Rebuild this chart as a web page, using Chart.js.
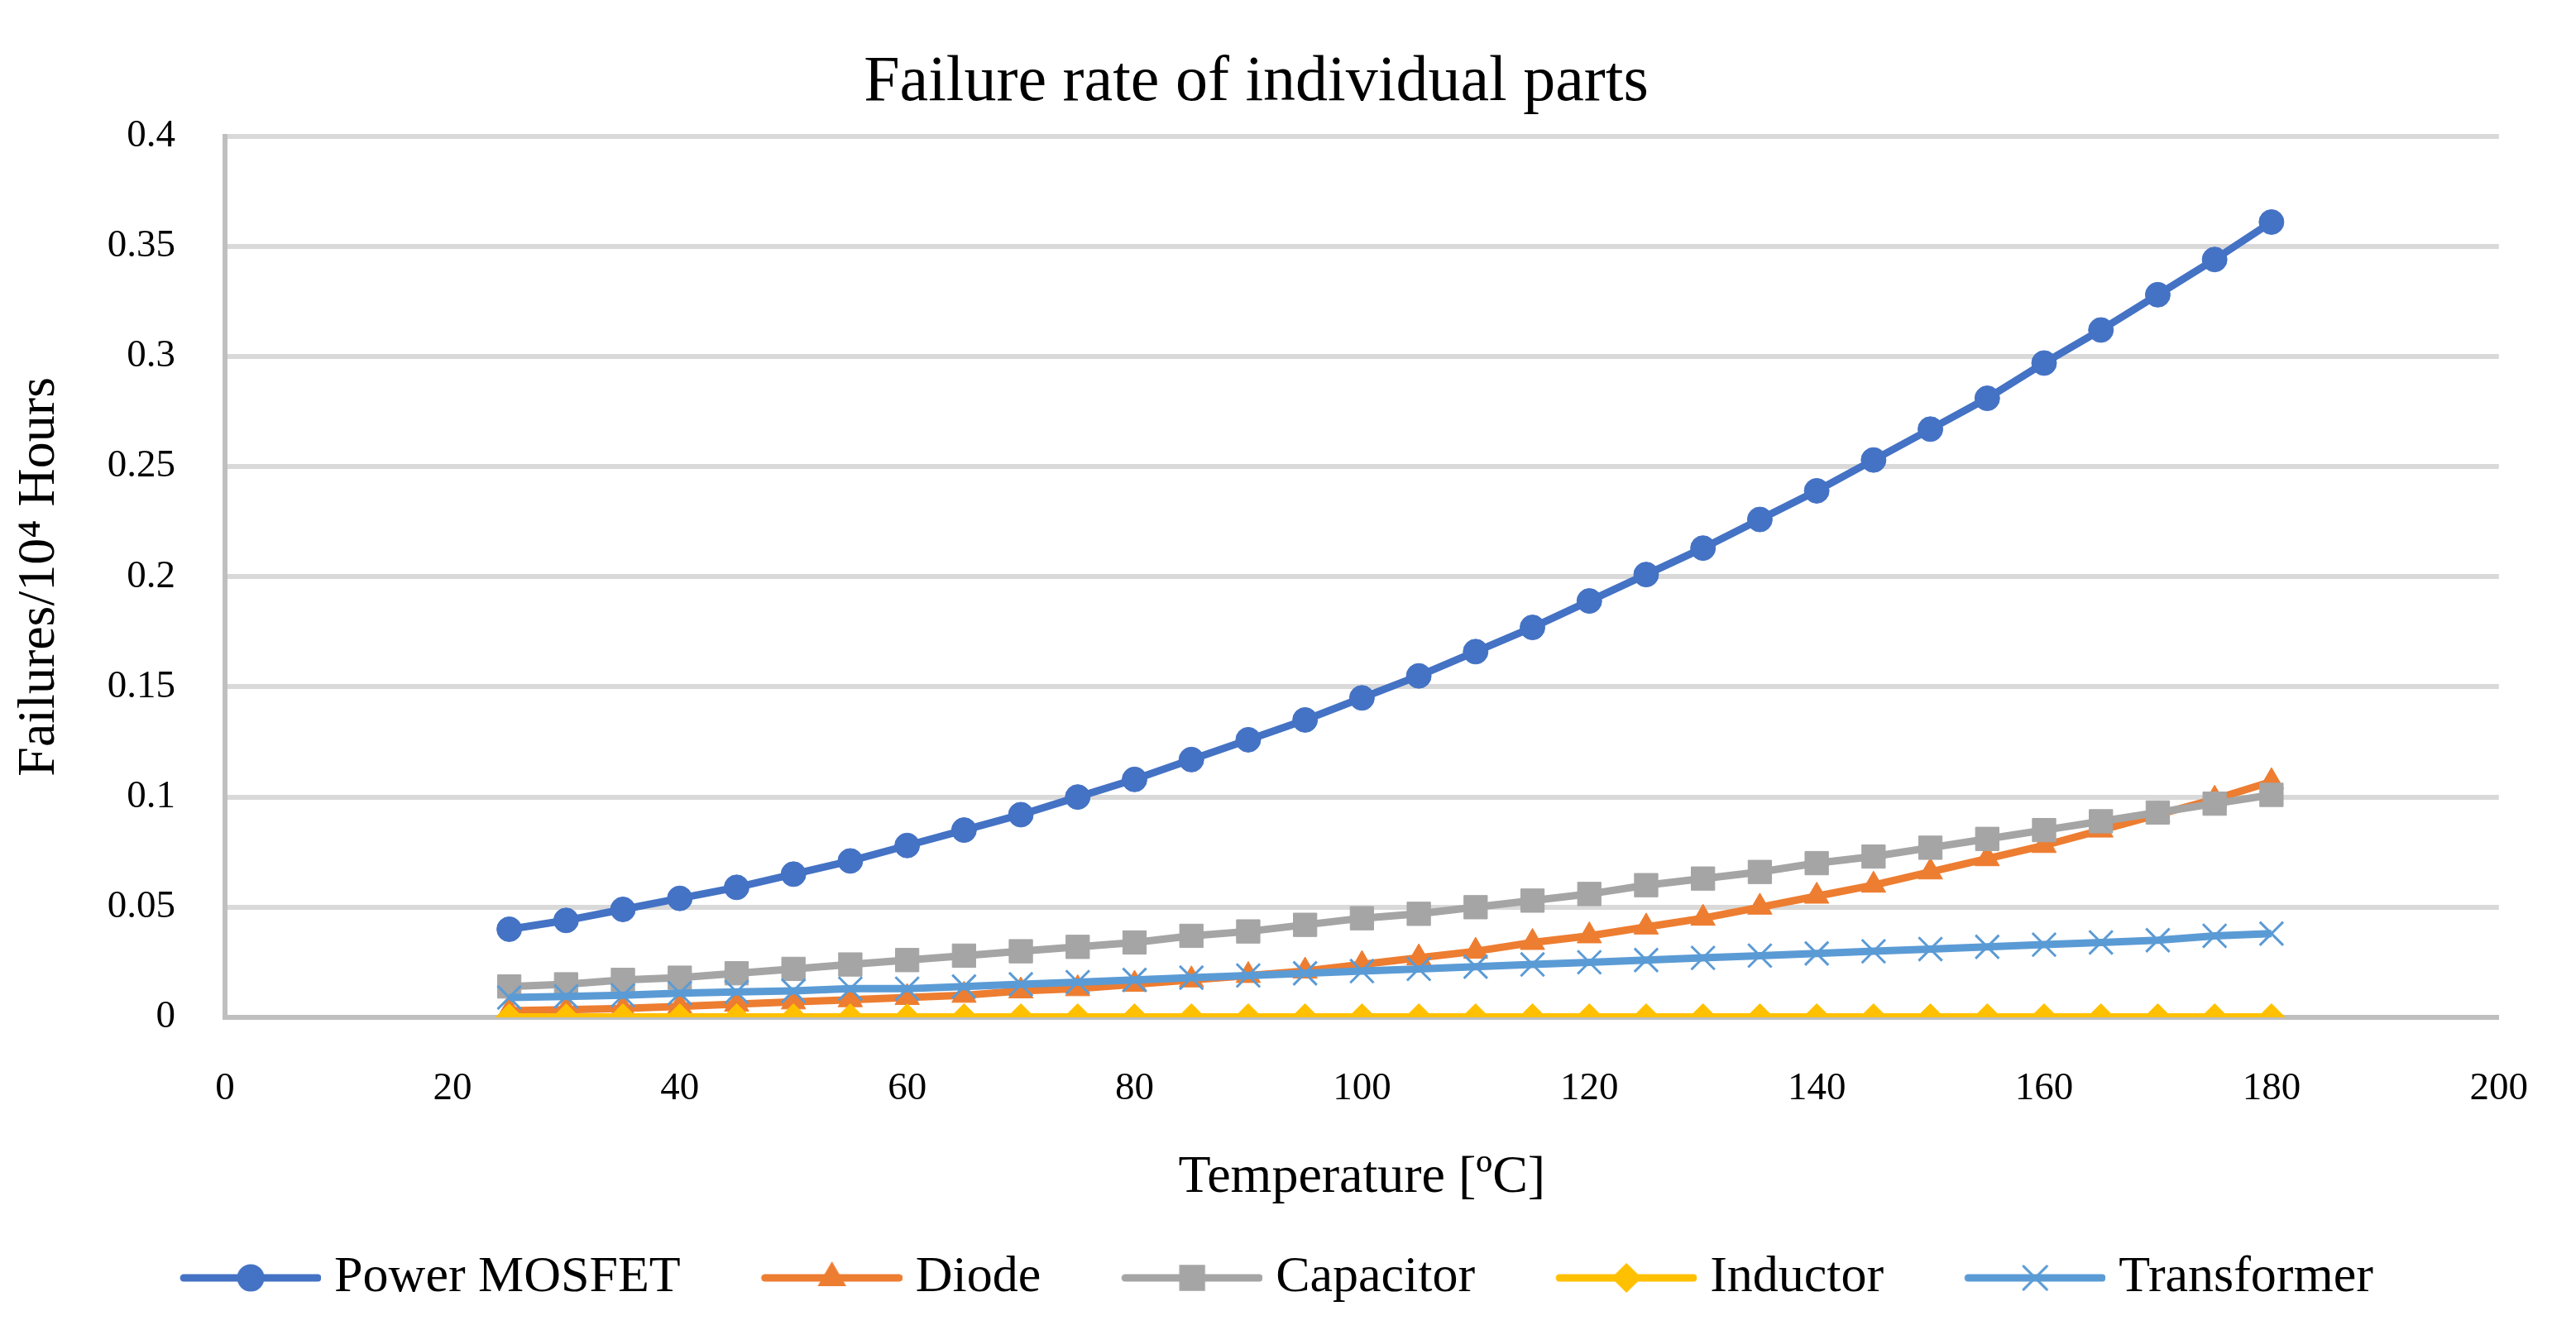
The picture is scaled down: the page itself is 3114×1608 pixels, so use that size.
<!DOCTYPE html>
<html>
<head>
<meta charset="utf-8">
<script src="https://cdn.jsdelivr.net/npm/chart.js@4.4.1/dist/chart.umd.min.js"></script>
<style>
  html, body { margin: 0; background: #fff; }
  #wrap { width: 3114px; height: 1608px; }
</style>
</head>
<body>
<div id="wrap"><canvas id="c"></canvas></div>
<script>
const TEMPS = [25, 30, 35, 40, 45, 50, 55, 60, 65, 70, 75, 80, 85, 90, 95, 100,
  105, 110, 115, 120, 125, 130, 135, 140, 145, 150, 155, 160, 165, 170, 175, 180];
const MOSFET = [0.040, 0.044, 0.049, 0.054, 0.059, 0.065, 0.071, 0.078, 0.085, 0.092, 0.100, 0.108, 0.117, 0.126, 0.135, 0.145,
  0.155, 0.166, 0.177, 0.189, 0.201, 0.213, 0.226, 0.239, 0.253, 0.267, 0.281, 0.297, 0.312, 0.328, 0.344, 0.361];
const DIODE = [0.003, 0.0035, 0.004, 0.005, 0.006, 0.007, 0.008, 0.009, 0.010, 0.012, 0.013, 0.015, 0.017, 0.019, 0.021, 0.024,
  0.027, 0.030, 0.034, 0.037, 0.041, 0.045, 0.050, 0.055, 0.060, 0.066, 0.072, 0.078, 0.085, 0.092, 0.099, 0.107];
const CAPACITOR = [0.014, 0.015, 0.017, 0.018, 0.020, 0.022, 0.024, 0.026, 0.028, 0.030, 0.032, 0.034, 0.037, 0.039, 0.042, 0.045,
  0.047, 0.050, 0.053, 0.056, 0.060, 0.063, 0.066, 0.070, 0.073, 0.077, 0.081, 0.085, 0.089, 0.093, 0.097, 0.101];
const INDUCTOR = [0.0002, 0.0002, 0.0002, 0.0002, 0.0002, 0.0002, 0.0002, 0.0002, 0.0002, 0.0002, 0.0002, 0.0002, 0.0002, 0.0002, 0.0002, 0.0002,
  0.0002, 0.0002, 0.0002, 0.0002, 0.0002, 0.0002, 0.0002, 0.0002, 0.0002, 0.0002, 0.0002, 0.0002, 0.0002, 0.0002, 0.0002, 0.0002];
const TRANSFORMER = [0.009, 0.0095, 0.010, 0.011, 0.0115, 0.012, 0.013, 0.013, 0.014, 0.015, 0.016, 0.017, 0.018, 0.019, 0.020, 0.021,
  0.022, 0.023, 0.024, 0.025, 0.026, 0.027, 0.028, 0.029, 0.030, 0.031, 0.032, 0.033, 0.034, 0.035, 0.037, 0.038];
const NAMES = ['Power MOSFET', 'Diode', 'Capacitor', 'Inductor', 'Transformer'];

const FONT = "'Liberation Serif', 'Times New Roman', serif";
const COLS = ['#4472c4', '#ed7d31', '#a5a5a5', '#ffc000', '#5b9bd5'];
const STYLES = ['circle', 'triangle', 'rect', 'rectRot', 'crossRot'];
const RADII = [15, 17, 20, 16, 20];

// legend icon geometry: the image is wider than the slot so the line
// sits close to its text, with the spare room on the left as item gap
const SLOT_W = 205, LINE_W = 170, ICON_H = 44;
const CANVAS_W = SLOT_W + 30;

const pts = ys => TEMPS.map((t, i) => ({ x: t, y: ys[i] }));

const icon = i => {
  const cv = document.createElement('canvas');
  cv.width = CANVAS_W; cv.height = ICON_H;
  const g = cv.getContext('2d');
  const x0 = CANVAS_W - LINE_W, y = ICON_H / 2;
  g.strokeStyle = COLS[i]; g.lineWidth = 9; g.lineCap = 'round';
  g.beginPath(); g.moveTo(x0 + 4, y); g.lineTo(CANVAS_W - 4, y); g.stroke();
  g.fillStyle = COLS[i]; g.lineWidth = 3;
  Chart.helpers.drawPoint(g, { pointStyle: STYLES[i], radius: RADII[i], borderWidth: 3 }, x0 + LINE_W / 2, y);
  return cv;
};

const ds = (i, ys) => ({
  label: NAMES[i], data: pts(ys),
  borderColor: COLS[i], backgroundColor: COLS[i],
  borderWidth: 9, pointStyle: STYLES[i], pointRadius: RADII[i],
  pointBorderWidth: STYLES[i] === 'crossRot' ? 3 : 1,
  pointBorderColor: COLS[i], pointBackgroundColor: COLS[i],
  tension: 0, order: 5 - i
});

new Chart(document.getElementById('c'), {
  type: 'line',
  data: {
    datasets: [ds(0, MOSFET), ds(1, DIODE), ds(2, CAPACITOR), ds(3, INDUCTOR), ds(4, TRANSFORMER)]
  },
  options: {
    responsive: true, maintainAspectRatio: false, animation: false,
    layout: { padding: { left: 10, right: 87, top: 54, bottom: 22 } },
    plugins: {
      tooltip: { enabled: false },
      title: {
        display: true, text: 'Failure rate of individual parts', color: '#000',
        font: { family: FONT, size: 78, weight: 'normal' }, padding: { top: 0, bottom: 17 }
      },
      legend: {
        position: 'bottom',
        labels: {
          color: '#000', font: { family: FONT, size: 62 },
          usePointStyle: true, pointStyleWidth: SLOT_W, padding: 48,
          sort: (a, b) => a.datasetIndex - b.datasetIndex,
          generateLabels: chart => Chart.defaults.plugins.legend.labels.generateLabels(chart)
            .map(l => ({ ...l, pointStyle: icon(l.datasetIndex) }))
        }
      }
    },
    scales: {
      x: {
        type: 'linear', min: 0, max: 200,
        ticks: { stepSize: 20, color: '#000', font: { family: FONT, size: 47 }, padding: 58 },
        grid: { display: false, drawTicks: false },
        border: { display: true, color: '#bfbfbf', width: 6 },
        title: {
          display: true, text: 'Temperature [ºC]', color: '#000',
          font: { family: FONT, size: 64 }, padding: { top: 20, bottom: 3 }
        },
        afterFit: s => { s.height = 236; }
      },
      y: {
        min: 0, max: 0.4,
        ticks: { stepSize: 0.05, color: '#000', font: { family: FONT, size: 47 }, padding: 60,
          callback: v => String(Math.round(v * 100) / 100) },
        grid: { color: '#d9d9d9', lineWidth: 6, drawTicks: false },
        border: { display: true, color: '#bfbfbf', width: 6 },
        title: {
          display: true, text: 'Failures/10⁴ Hours', color: '#000',
          font: { family: FONT, size: 64 }, padding: { top: 0, bottom: 10 }
        },
        afterFit: s => { s.width = 262; }
      }
    }
  }
});
</script>
</body>
</html>
